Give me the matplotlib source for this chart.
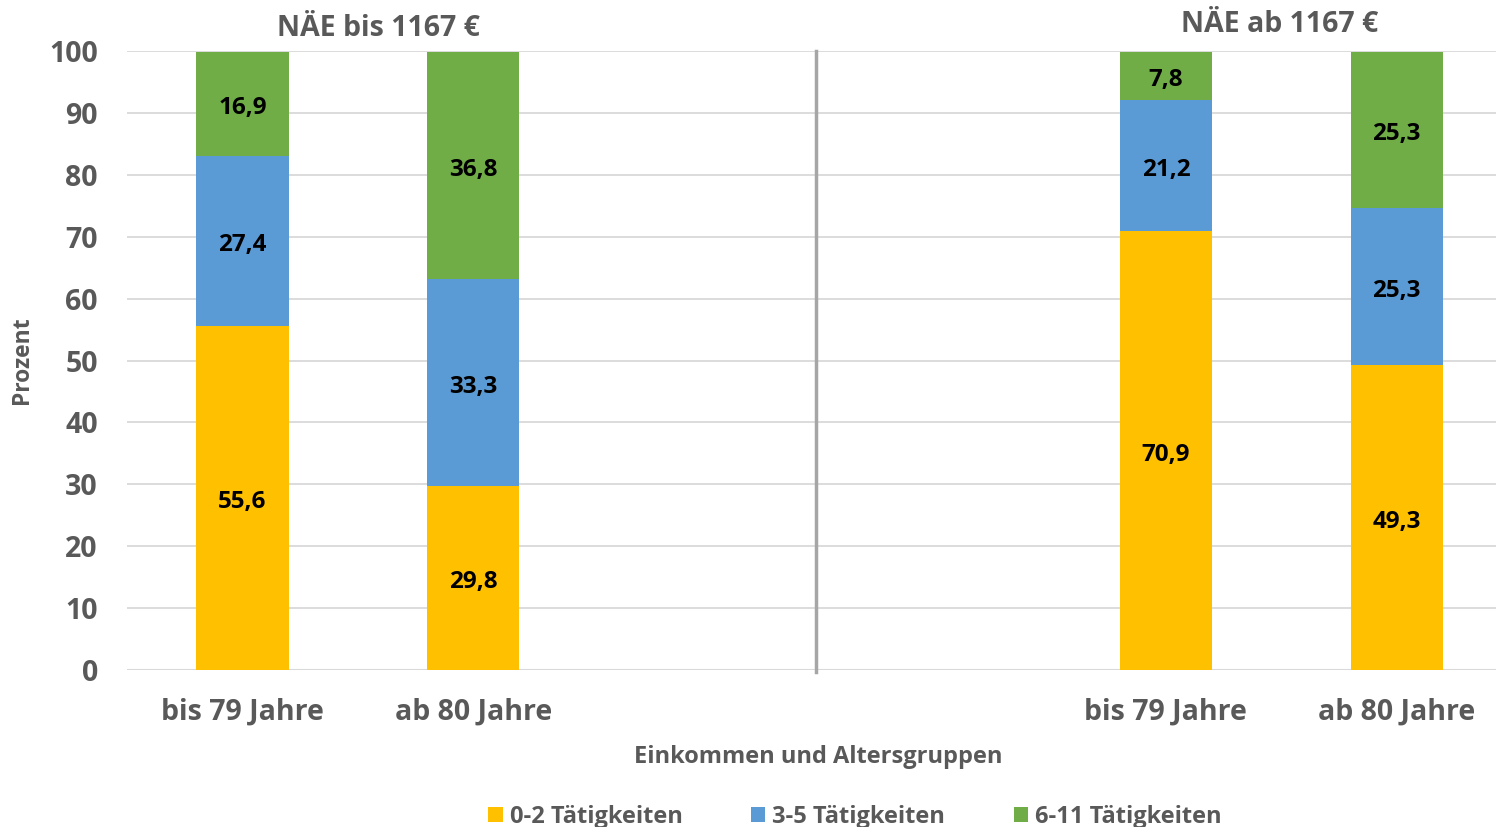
import matplotlib
matplotlib.use("Agg")
import matplotlib.pyplot as plt
import numpy as np
from matplotlib.patches import Patch

categories = ["bis 79 Jahre", "ab 80 Jahre", "", "", "bis 79 Jahre", "ab 80 Jahre"]
series_names = ["0-2 Tätigkeiten", "3-5 Tätigkeiten", "6-11 Tätigkeiten"]
s_0_2 = [55.6, 29.8, None, None, 70.9, 49.3]
s_3_5 = [27.4, 33.3, None, None, 21.2, 25.3]
s_6_11 = [16.9, 36.8, None, None, 7.8, 25.3]
group_titles = ["NÄE bis 1167 €", "NÄE ab 1167 €"]
yticks = [0, 10, 20, 30, 40, 50, 60, 70, 80, 90, 100]
colors = ["#FFC000", "#5B9BD5", "#70AD47"]

FONT = ["Open Sans", "DejaVu Sans"]
plt.rcParams["font.family"] = FONT
GRAY = "#595959"

fig = plt.figure(figsize=(14.96, 8.27), dpi=100)
ax = fig.add_axes([127/1496, 1-670/827, 1-127/1496, (670-51)/827])

x = np.arange(len(categories))
bottom = np.zeros(len(categories))
for vals, col in zip([s_0_2, s_3_5, s_6_11], colors):
    v = np.array([np.nan if a is None else a for a in vals], dtype=float)
    mask = ~np.isnan(v)
    ax.bar(x[mask], v[mask], 0.4, bottom=bottom[mask], color=col, zorder=3)
    for xi, b, val in zip(x[mask], bottom[mask], v[mask]):
        ax.annotate(f"{val:.1f}".replace(".", ","), (xi, b + val/2), xytext=(0, -3),
                    textcoords="offset points", ha="center", va="center",
                    fontsize=17.5, fontweight="bold", color="black", zorder=4)
    bottom[mask] += v[mask]

ax.set_ylim(0, 100)
ax.set_xlim(-0.5, 5.43)
ax.set_yticks(yticks)
ax.set_yticklabels([str(t) for t in yticks], fontsize=20.5, fontweight="bold", color=GRAY)
ax.set_xticks(x)
ax.set_xticklabels(categories, fontsize=20.5, fontweight="bold", color=GRAY)
ax.tick_params(axis="y", length=0, pad=21)
ax.tick_params(axis="x", length=0, pad=20)
ax.grid(axis="y", color="#d9d9d9", linewidth=1.3, zorder=0)
for s in ax.spines.values():
    s.set_visible(False)
ax.axhline(0, color="#d9d9d9", linewidth=1.5, zorder=2)

ax.plot([2.483, 2.483], [-0.3, 100], color="#a6a6a6", linewidth=2.5, clip_on=False, zorder=2)

ax.set_ylabel("Prozent", fontsize=16.5, fontweight="bold", color=GRAY)
ax.yaxis.set_label_coords((34-127)/(1496-127), 0.5)
fig.text(818/1496, 1-757/827, "Einkommen und Altersgruppen", ha="center", va="center",
         fontsize=17, fontweight="bold", color=GRAY)

fig.text(378/1496, 1-29/827, group_titles[0], ha="center", va="center",
         fontsize=20.5, fontweight="bold", color=GRAY)
fig.text(1280/1496, 1-25/827, group_titles[1], ha="center", va="center",
         fontsize=20.5, fontweight="bold", color=GRAY)

handles = [Patch(facecolor=c) for c in colors]
leg = fig.legend(handles, series_names, loc="center", bbox_to_anchor=(855/1496, 1-817/827),
                 ncol=3, frameon=False, handlelength=0.6, handleheight=0.6,
                 handletextpad=0.3, columnspacing=2.9, borderpad=0,
                 prop={"family": FONT, "weight": "bold", "size": 17})
for t in leg.get_texts():
    t.set_color(GRAY)

fig.savefig("out.png", dpi=100)
